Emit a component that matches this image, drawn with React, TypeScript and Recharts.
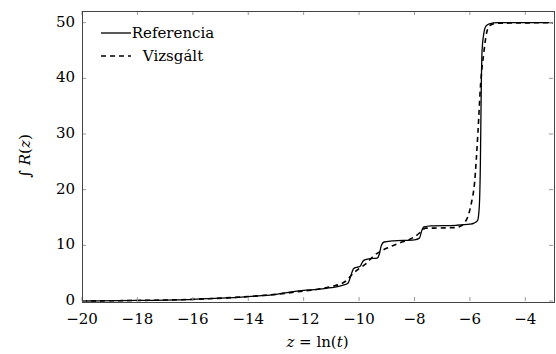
import React from 'react'
import { LineChart, Line, XAxis, YAxis } from 'recharts'

// Referencia (solid) curve
const refZ = [-20, -18, -16, -15, -14, -13, -12.5, -12, -11.5, -11, -10.6, -10.4, -10.3, -10.2, -10.05, -9.95, -9.88, -9.8, -9.6, -9.35, -9.27, -9.2, -9.1, -8.8, -8.0, -7.82, -7.74, -7.66, -7.4, -6.5, -6.0, -5.85, -5.72, -5.66, -5.62, -5.59, -5.56, -5.5, -5.42, -5.3, -5.0, -3]
const refVal = [0, 0.1, 0.3, 0.5, 0.8, 1.2, 1.6, 1.9, 2.1, 2.4, 2.8, 3.2, 4.5, 5.8, 6.1, 6.3, 7.0, 7.4, 7.6, 7.7, 8.4, 9.9, 10.6, 10.8, 11.0, 11.3, 12.6, 13.3, 13.5, 13.6, 13.8, 14.0, 14.5, 17, 25, 38, 45, 48, 49.4, 49.8, 50, 50]

// Vizsgált (dashed) curve
const testZ = [-20, -18, -16, -14, -13, -12, -11.5, -11, -10.5, -10.2, -10.0, -9.7, -9.5, -9.2, -8.9, -8.5, -8.2, -7.8, -7.7, -7.6, -7.3, -6.5, -6.35, -6.2, -6.05, -5.95, -5.83, -5.71, -5.61, -5.5, -5.45, -5.38, -5.25, -5.0, -3]
const testVal = [0, 0.1, 0.3, 0.8, 1.2, 1.8, 2.1, 2.6, 3.5, 5.0, 5.8, 6.9, 8.0, 9.0, 9.7, 10.5, 11.0, 12.3, 12.8, 13.1, 13.1, 13.2, 13.4, 14.0, 15.5, 17.5, 21.3, 30.2, 39.2, 44.5, 46.5, 48.5, 49.6, 49.9, 50]

const xTicks = [-20, -18, -16, -14, -12, -10, -8, -6, -4]
const yTicks = [0, 10, 20, 30, 40, 50]

const refData = refZ.map((z, i) => ({ z, v: refVal[i] }))
const testData = testZ.map((z, i) => ({ z, v: testVal[i] }))

const W = 556
const H = 354
const TOP = 11
const BOTTOM = 301
const LEFT = 82
const RIGHT = 553
const FONT = '"DejaVu Serif", serif'
const TICK_LEN = 4

const fmt = (v: number) => (v < 0 ? '\u2212' + Math.abs(v) : String(v))

function XTick({ x, payload }: any) {
  return (
    <g>
      <line x1={x} x2={x} y1={BOTTOM} y2={BOTTOM - TICK_LEN} stroke="#999" />
      <line x1={x} x2={x} y1={TOP} y2={TOP + TICK_LEN} stroke="#999" />
      <text x={x} y={BOTTOM + 23} textAnchor="middle" fontFamily={FONT} fontSize={15} fill="#000">
        {fmt(payload.value)}
      </text>
    </g>
  )
}

function YTick({ y, payload }: any) {
  return (
    <g>
      <line x1={LEFT} x2={LEFT + TICK_LEN} y1={y} y2={y} stroke="#999" />
      <line x1={RIGHT} x2={RIGHT - TICK_LEN} y1={y} y2={y} stroke="#999" />
      <text x={LEFT - 7} y={y + 4} textAnchor="end" fontFamily={FONT} fontSize={15} fill="#000">
        {fmt(payload.value)}
      </text>
    </g>
  )
}

function LegendBox() {
  return (
    <svg width={140} height={50} style={{ position: 'absolute', left: 101, top: 25, display: 'block' }}>
      <line x1={0} x2={30} y1={8} y2={8} stroke="#000" strokeWidth={1.3} />
      <text x={72} y={13} textAnchor="middle" fontFamily={FONT} fontSize={15}>Referencia</text>
      <line x1={0} x2={30} y1={31} y2={31} stroke="#000" strokeWidth={1.6} strokeDasharray="5 4" />
      <text x={72} y={36} textAnchor="middle" fontFamily={FONT} fontSize={15}>Vizsgált</text>
    </svg>
  )
}

export default function App() {
  return (
    <div style={{ position: 'absolute', left: 0, top: 0, width: W, height: H, background: '#fff' }}>
      <LineChart width={W} height={H} margin={{ top: TOP, right: W - RIGHT, bottom: 0, left: 0 }}>
        <XAxis
          dataKey="z"
          type="number"
          domain={[-20, -3.07]}
          ticks={xTicks}
          allowDuplicatedCategory={false}
          height={H - BOTTOM}
          tickLine={false}
          axisLine={false}
          tick={<XTick />}
          label={() => (
            <text x={(LEFT + RIGHT) / 2} y={H - 7} textAnchor="middle" fontFamily={FONT} fontSize={15}>
              <tspan fontStyle="italic">z</tspan> = ln(<tspan fontStyle="italic">t</tspan>)
            </text>
          )}
        />
        <YAxis
          type="number"
          domain={[0, 52.1]}
          ticks={yTicks}
          width={LEFT}
          tickLine={false}
          axisLine={false}
          tick={<YTick />}
          label={() => (
            <text x={30} y={(TOP + BOTTOM) / 2} transform={`rotate(-90 30 ${(TOP + BOTTOM) / 2})`} textAnchor="middle" fontFamily={FONT} fontSize={15}>
              ∫ <tspan fontStyle="italic">R</tspan>(<tspan fontStyle="italic">z</tspan>)
            </text>
          )}
        />
        <Line data={refData} dataKey="v" type="monotone" stroke="#000" strokeWidth={1.3} dot={false} isAnimationActive={false} />
        <Line data={testData} dataKey="v" type="monotone" stroke="#000" strokeWidth={1.6} strokeDasharray="5 4" dot={false} isAnimationActive={false} />
      </LineChart>
      <div
        style={{
          position: 'absolute',
          left: LEFT - 0.5,
          top: TOP - 0.5,
          width: RIGHT - LEFT,
          height: BOTTOM - TOP,
          border: '1px solid #444',
          pointerEvents: 'none',
        }}
      />
      <LegendBox />
    </div>
  )
}
